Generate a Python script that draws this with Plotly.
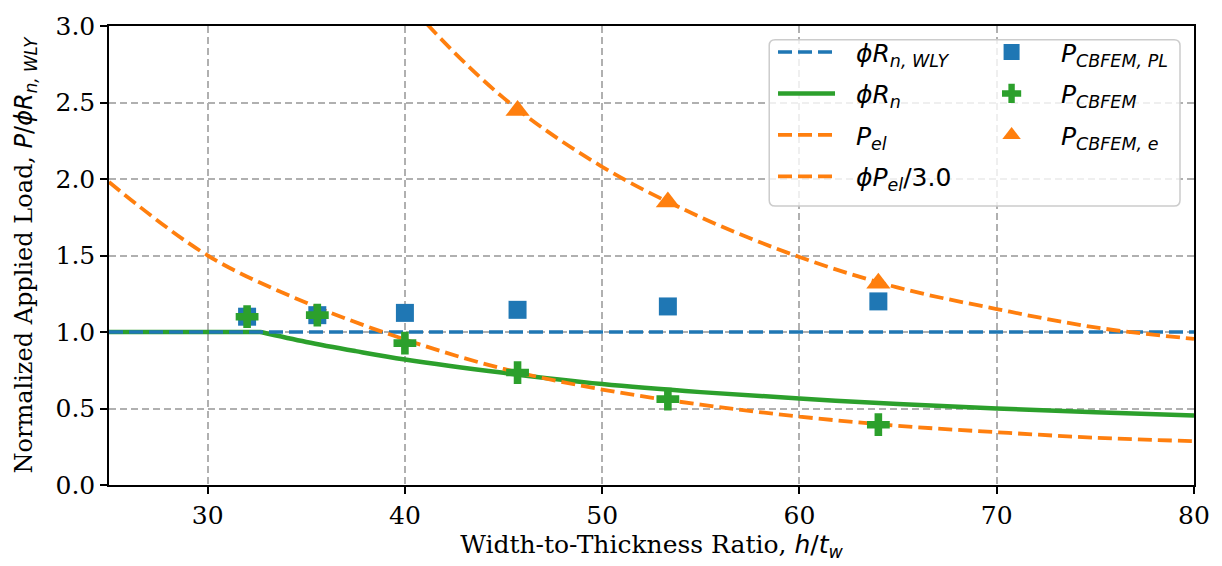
import plotly.graph_objects as go

# Width-to-thickness ratios of the analysed webs
hw_ratio = [32.0, 35.56, 40.0, 45.71, 53.33, 64.0]

# Normalized CBFEM loads
p_cbfem_pl = [1.10, 1.11, 1.125, 1.145, 1.167, 1.20]
p_cbfem = [1.10, 1.11, 0.927, 0.735, 0.561, 0.394]
tri_x = [45.71, 53.33, 64.0]
p_cbfem_e = [2.447, 1.849, 1.319]

# Elastic buckling load curve
pel_x = [25, 30, 35, 40, 45, 50, 55, 60, 65, 70, 75, 80]
p_el = [6.60, 5.00, 3.97, 3.17, 2.53, 2.08, 1.75, 1.49, 1.29, 1.15, 1.03, 0.955]
PHI = 0.9
phi_pel_3 = [PHI * v / 3.0 for v in p_el]

# Design strength curve (plateau, then decay)
rn_flat_x = [25, 32.7]
rn_flat_y = [1.0, 1.0]
rn_x = [32.7, 35, 37.5, 40, 45, 50, 55, 60, 65, 70, 75, 80]
rn_y = [1.0, 0.935, 0.875, 0.82, 0.733, 0.66, 0.607, 0.565, 0.529, 0.50, 0.476, 0.454]

# Web local yielding limit
wly_x = [25, 80]
wly_y = [1.0, 1.0]

BLUE = "#1f77b4"
ORANGE = "#ff7f0e"
GREEN = "#2ca02c"
SANS = "DejaVu Sans"
SERIF = "DejaVu Serif"
DASH = "14px,6px"
SP = "&nbsp;&nbsp;"

fig = go.Figure()

fig.add_trace(go.Scatter(x=rn_flat_x, y=rn_flat_y, mode="lines",
                         line=dict(color=GREEN, width=4.5), legendgroup="rn",
                         showlegend=False, hoverinfo="skip"))
fig.add_trace(go.Scatter(x=rn_x, y=rn_y, mode="lines", name=SP + "<i>ϕR<sub>n</sub></i>",
                         line=dict(color=GREEN, width=4.5, shape="spline"),
                         legendgroup="rn", legend="legend", legendrank=2))
fig.add_trace(go.Scatter(x=wly_x, y=wly_y, mode="lines",
                         name=SP + "<i>ϕR<sub>n, WLY</sub></i>",
                         line=dict(color=BLUE, width=3.5, dash=DASH),
                         legendgroup="wly", legend="legend", legendrank=1))
fig.add_trace(go.Scatter(x=pel_x, y=p_el, mode="lines", name=SP + "<i>P<sub>el</sub></i>",
                         line=dict(color=ORANGE, width=3.8, dash=DASH, shape="spline"),
                         legendgroup="pel", legend="legend", legendrank=3))
fig.add_trace(go.Scatter(x=pel_x, y=phi_pel_3, mode="lines",
                         name=SP + "<i>ϕP<sub>el</sub></i>/3.0",
                         line=dict(color=ORANGE, width=3.8, dash=DASH, shape="spline"),
                         legendgroup="pel3", legend="legend", legendrank=4))
fig.add_trace(go.Scatter(x=hw_ratio, y=p_cbfem_pl, mode="markers",
                         name=SP + "<i>P<sub>CBFEM, PL</sub></i>",
                         marker=dict(symbol="square", size=18, color=BLUE),
                         legendgroup="pl", legend="legend2", legendrank=1))
fig.add_trace(go.Scatter(x=hw_ratio, y=p_cbfem, mode="markers",
                         name=SP + "<i>P<sub>CBFEM</sub></i>",
                         marker=dict(symbol="cross", size=19, color=GREEN),
                         legendgroup="cb", legend="legend2", legendrank=2))
fig.add_trace(go.Scatter(x=tri_x, y=p_cbfem_e, mode="markers",
                         name=SP + "<i>P<sub>CBFEM, e</sub></i>",
                         marker=dict(symbol="triangle-up", size=21, color=ORANGE),
                         legendgroup="cbe", legend="legend2", legendrank=3))

# Legend frame
x0, x1, y0, y1 = 0.6085, 0.9871, 0.6077, 0.9701
rx, ry = 0.0055, 0.0128
frame = (f"M {x0+rx},{y0} L {x1-rx},{y0} Q {x1},{y0} {x1},{y0+ry} "
         f"L {x1},{y1-ry} Q {x1},{y1} {x1-rx},{y1} L {x0+rx},{y1} "
         f"Q {x0},{y1} {x0},{y1-ry} L {x0},{y0+ry} Q {x0},{y0} {x0+rx},{y0} Z")
fig.add_shape(type="path", path=frame, xref="paper", yref="paper", layer="above",
              fillcolor="rgba(255,255,255,0.8)", line=dict(color="#cccccc", width=1.5))

axis_common = dict(showline=True, linecolor="black", linewidth=1.5, mirror=True,
                   ticks="outside", ticklen=7, tickwidth=1.5, tickcolor="black",
                   showgrid=True, gridcolor="#b0b0b0", gridwidth=1.5, griddash="7px,4px",
                   zeroline=False, tickfont=dict(family=SERIF, size=25, color="black"))

fig.update_xaxes(range=[25, 80], tickvals=[30, 40, 50, 60, 70, 80],
                 title=dict(text=f"Width-to-Thickness Ratio, <span style='font-family:{SANS}'>"
                                 "<i>h</i>/<i>t<sub>w</sub></i></span>",
                            font=dict(family=SERIF, size=25, color="black"), standoff=6),
                 **axis_common)
fig.update_yaxes(range=[0, 3.0], tickvals=[0, 0.5, 1.0, 1.5, 2.0, 2.5, 3.0],
                 tickformat=".1f",
                 title=dict(text=f"Normalized Applied Load, <span style='font-family:{SANS}'>"
                                 "<i>P</i>/<i>ϕR<sub>n, WLY</sub></i></span>",
                            font=dict(family=SERIF, size=24, color="black"), standoff=16),
                 **axis_common)

legend_common = dict(bgcolor="rgba(0,0,0,0)", borderwidth=0,
                     font=dict(family=SANS, size=25, color="black"),
                     itemwidth=57, tracegroupgap=6, xanchor="left", yanchor="top",
                     itemclick=False)

fig.update_layout(
    width=1222, height=566,
    margin=dict(l=109, r=25, t=16, b=81),
    plot_bgcolor="white", paper_bgcolor="white",
    legend=dict(x=0.612, y=0.993, **legend_common),
    legend2=dict(x=0.801, y=0.993, **legend_common),
)

fig.write_html("out.html")
